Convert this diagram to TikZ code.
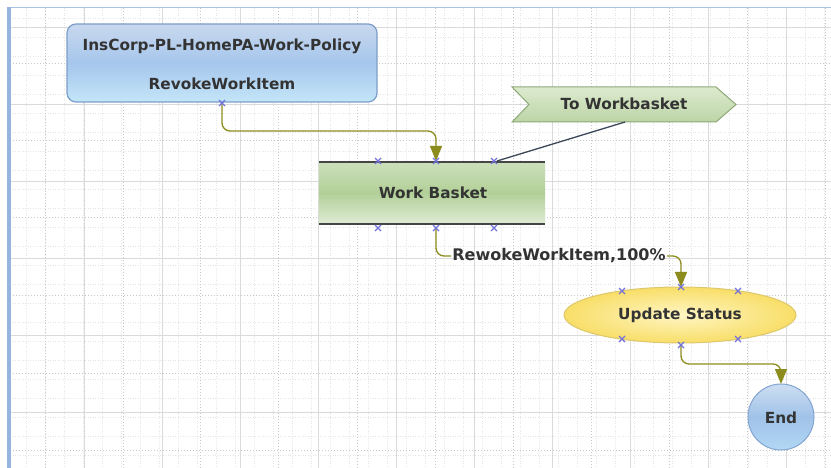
\documentclass[tikz,border=0pt]{standalone}
\usepackage{fontspec}
\setmainfont{DejaVu Sans}
\usetikzlibrary{arrows.meta,shapes.geometric,shapes.symbols}
\definecolor{olive}{HTML}{8C8C1E}
\definecolor{txt}{HTML}{333333}
\definecolor{xmark}{HTML}{7272D8}
\definecolor{gridmaj}{HTML}{DADADA}
\definecolor{gridmin}{HTML}{C8C8C8}
\definecolor{bluebord}{HTML}{7C9DC9}
\definecolor{greenbord}{HTML}{8FA878}
\tikzset{
  lbl/.style={font=\fontsize{15.3}{17}\selectfont\bfseries, text=txt},
  flow/.style={draw=olive, line width=1.3pt, rounded corners=8pt},
  xm/.style={xmark, line width=1.1pt},
}
\newcommand{\xmk}[2]{\draw[xm] (#1-3,#2-3) -- (#1+3,#2+3) (#1-3,#2+3) -- (#1+3,#2-3);}
\begin{document}
\begin{tikzpicture}[x=1pt,y=-1pt]
\useasboundingbox (0,0) rectangle (831,468);
\fill[white] (0,0) rectangle (831,468);
% canvas
\begin{scope}
\clip (10,8) rectangle (831,468);
\foreach \y in {18,37,...,468} \draw[gridmin!45, dotted, line width=0.5pt] (10,\y) -- (831,\y);
\foreach \x in {26,45,...,831} \draw[gridmin!45, dotted, line width=0.5pt] (\x,8) -- (\x,468);
\foreach \y in {64,141,218,295,373,450} \draw[gridmin, dotted, line width=1pt] (10,\y) -- (831,\y);
\foreach \x in {45,123,200,278,357,435,513,591,669,747,825} \draw[gridmin, dotted, line width=1pt] (\x,8) -- (\x,468);
\foreach \y in {27,104,181,258,335,412} \draw[gridmaj, line width=0.8pt] (10,\y) -- (831,\y);
\foreach \x in {84,162,240,318,396,474,552,630,708,786} \draw[gridmaj, line width=0.8pt] (\x,8) -- (\x,468);
\end{scope}
\draw[color={rgb,255:red,170;green,196;blue,230}, line width=1pt] (10,7.5) -- (831,7.5);
\fill[color={rgb,255:red,150;green,180;blue,222}] (7,7) rectangle (11,468);

% Nodes
\node (pol) [draw=bluebord, line width=1.2pt, rounded corners=9pt, minimum width=310pt, minimum height=78pt,
  top color={rgb,255:red,200;green,216;blue,238}, bottom color={rgb,255:red,196;green,230;blue,248},
  middle color={rgb,255:red,166;green,198;blue,236}] at (222,63) {};
\node[lbl] (polt) at (222,46) {InsCorp-PL-HomePA-Work-Policy};
\node[lbl] (pold) at (222,84) {RevokeWorkItem};

\node (wb) [minimum width=226pt, minimum height=62pt,
  top color={rgb,255:red,204;green,224;blue,186}, bottom color={rgb,255:red,224;green,236;blue,214},
  middle color={rgb,255:red,178;green,207;blue,152}] at (432,193) {};
\draw[color={rgb,255:red,70;green,70;blue,70}, line width=2.4pt] (wb.north west) -- (wb.north east);
\draw[color={rgb,255:red,70;green,70;blue,70}, line width=2.4pt] (wb.south west) -- (wb.south east);
\node[lbl] (wbt) at (433,193) {Work Basket};

\shade[draw=greenbord, line width=1pt, top color={rgb,255:red,220;green,234;blue,206}, bottom color={rgb,255:red,188;green,212;blue,166}]
  (512,87) -- (716,87) -- (736,104.5) -- (716,122) -- (512,122) -- (529,104.5) -- cycle;
\node[lbl] (tw) at (624,104) {To Workbasket};
\coordinate (twb) at (625,122);

\node (us) [ellipse, draw={rgb,255:red,222;green,200;blue,110}, line width=1pt, minimum width=232pt, minimum height=56pt,
  inner color={rgb,255:red,255;green,246;blue,196}, outer color={rgb,255:red,248;green,222;blue,104}] at (680,315) {};
\node[lbl] (ust) at (680,315) {Update Status};

\node (end) [circle, draw={rgb,255:red,130;green,165;blue,210}, line width=1pt, minimum size=66pt,
  top color={rgb,255:red,205;green,222;blue,242}, bottom color={rgb,255:red,178;green,216;blue,244},
  middle color={rgb,255:red,160;green,194;blue,232}] at (781,417) {};
\node[lbl] (endt) at (781,418) {End};

% connection points
\coordinate (p1) at (222,103);
\coordinate (wbin) at (436,161);
\coordinate (wbout) at (436,228);
\coordinate (wbr) at (497,161);
\coordinate (usin) at (681,287);
\coordinate (usout) at (681,345);
\coordinate (endin) at (781,384);

% connectors
\draw[flow, -{Triangle[length=15pt,width=12pt,fill=olive]}] (p1) |- (436,131) -- (wbin);
\node[lbl, font=\fontsize{16}{18}\selectfont\bfseries, inner sep=1pt] (rw) at (559,256) {RewokeWorkItem,100\%};
\draw[flow] (wbout) |- (rw.west);
\draw[flow, -{Triangle[length=15pt,width=12pt,fill=olive]}] (rw.east) -| (usin);
\draw[flow, -{Triangle[length=15pt,width=12pt,fill=olive]}] (usout) |- (781,364) -- (endin);
\draw[color={rgb,255:red,60;green,72;blue,88}, line width=1.3pt] (twb) -- (wbr);

% x markers
\xmk{222}{103}
\xmk{378}{161}\xmk{436}{161}\xmk{494}{161}
\xmk{378}{228}\xmk{436}{228}\xmk{494}{228}
\xmk{622}{291}\xmk{681}{287}\xmk{738}{291}
\xmk{622}{339}\xmk{681}{345}\xmk{738}{339}
\end{tikzpicture}
\end{document}
